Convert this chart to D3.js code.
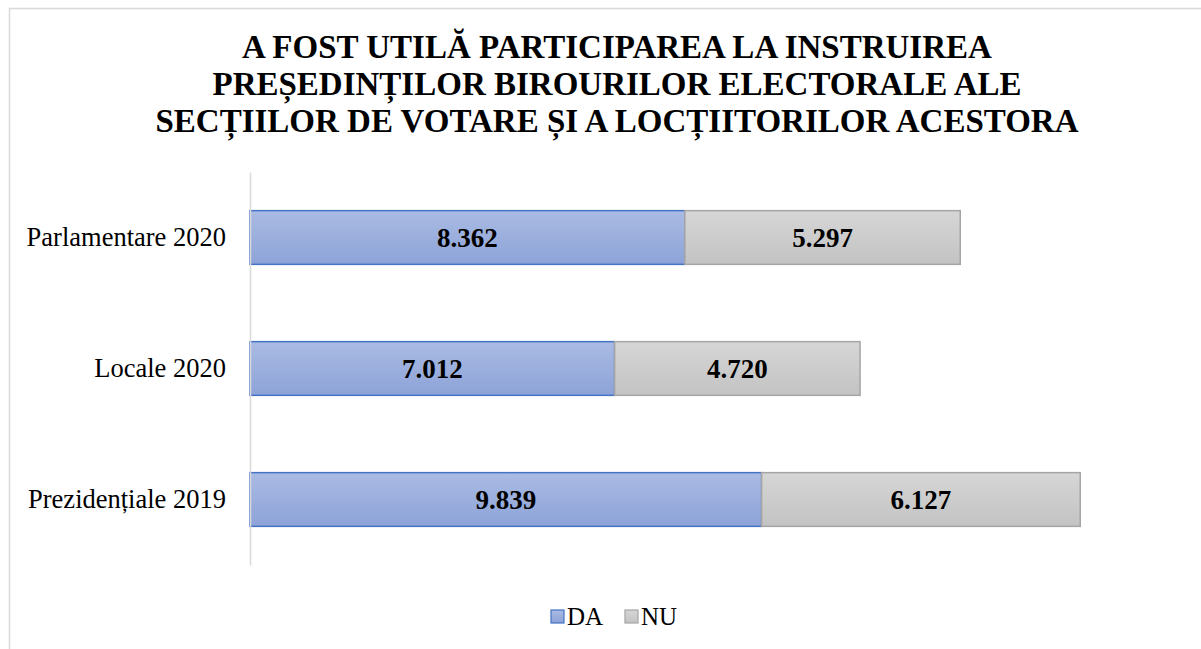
<!DOCTYPE html>
<html>
<head>
<meta charset="utf-8">
<script src="https://cdn.jsdelivr.net/npm/d3@7"></script>
<style>
  body { margin: 0; background: #fff; }
  svg { display: block; font-family: "Liberation Serif", "Times New Roman", serif; }
</style>
</head>
<body>
<svg id="chart" width="1201" height="649"></svg>
<script>
const categories = ['Parlamentare 2020', 'Locale 2020', 'Prezidențiale 2019'];
const seriesNames = ['DA', 'NU'];
const daValues = [8362, 7012, 9839];
const nuValues = [5297, 4720, 6127];
const titleLines = [
  'A FOST UTILĂ PARTICIPAREA LA INSTRUIREA',
  'PREȘEDINȚILOR BIROURILOR ELECTORALE ALE',
  'SECȚIILOR DE VOTARE ȘI A LOCȚIITORILOR ACESTORA'
];

const svg = d3.select('#chart');
const width = +svg.attr('width');
const height = +svg.attr('height');

// gradients
const defs = svg.append('defs');
const gradDA = defs.append('linearGradient').attr('id', 'gDA').attr('x1', 0).attr('y1', 0).attr('x2', 0).attr('y2', 1);
gradDA.append('stop').attr('offset', '0%').attr('stop-color', '#aabbe3');
gradDA.append('stop').attr('offset', '100%').attr('stop-color', '#8da3d8');
const gradNU = defs.append('linearGradient').attr('id', 'gNU').attr('x1', 0).attr('y1', 0).attr('x2', 0).attr('y2', 1);
gradNU.append('stop').attr('offset', '0%').attr('stop-color', '#d6d6d6');
gradNU.append('stop').attr('offset', '100%').attr('stop-color', '#c3c3c3');

// chart area border
svg.append('rect')
  .attr('x', 9.5).attr('y', 8.5)
  .attr('width', width + 20).attr('height', height + 20)
  .attr('fill', '#fff')
  .attr('stroke', '#d9d9d9')
  .attr('stroke-width', 1.5);

// title
svg.append('text')
  .attr('text-anchor', 'middle')
  .style('font-size', '33px')
  .style('font-weight', 'bold')
  .selectAll('tspan')
  .data(titleLines)
  .enter()
  .append('tspan')
  .attr('x', 617)
  .attr('y', (d, i) => 58 + i * 37)
  .text(d => d);

const xScale = d3.scaleLinear()
  .domain([0, 18000])
  .range([250, 1186]);

const yScale = d3.scaleBand()
  .domain(categories)
  .range([172, 565])
  .paddingInner(0.59)
  .paddingOuter(0.295);

const rows = categories.map((c, i) => ({ cat: c, DA: daValues[i], NU: nuValues[i] }));
const stacked = d3.stack().keys(seriesNames)(rows);

const fills = { DA: 'url(#gDA)', NU: 'url(#gNU)' };
const strokes = { DA: '#4472c4', NU: '#a5a5a5' };

const layers = svg.selectAll('.layer')
  .data(stacked)
  .enter()
  .append('g')
  .attr('class', 'layer');

layers.selectAll('rect')
  .data(s => s.map(d => ({ key: s.key, d })))
  .enter()
  .append('rect')
  .attr('x', p => xScale(p.d[0]))
  .attr('y', p => yScale(p.d.data.cat))
  .attr('width', p => xScale(p.d[1]) - xScale(p.d[0]))
  .attr('height', yScale.bandwidth())
  .attr('fill', p => fills[p.key])
  .attr('stroke', p => strokes[p.key])
  .attr('stroke-width', 1.5);

const fmt = v => d3.format(',')(v).replace(/,/g, '.');

layers.selectAll('text')
  .data(s => s.map(d => ({ key: s.key, d })))
  .enter()
  .append('text')
  .attr('x', p => (xScale(p.d[0]) + xScale(p.d[1])) / 2)
  .attr('y', p => yScale(p.d.data.cat) + yScale.bandwidth() / 2)
  .attr('dy', '0.35em')
  .attr('text-anchor', 'middle')
  .style('font-size', '27px')
  .style('font-weight', 'bold')
  .text(p => fmt(p.d[1] - p.d[0]));

// y axis
const yAxis = d3.axisLeft(yScale).tickSize(0).tickPadding(24);
const yg = svg.append('g')
  .attr('transform', 'translate(250,0)')
  .call(yAxis);
yg.select('.domain').attr('stroke', '#d9d9d9').attr('stroke-width', 1.5);
yg.selectAll('text')
  .style('font-family', '"Liberation Serif", "Times New Roman", serif')
  .style('font-size', '26.5px')
  .attr('fill', '#000');

// legend
const legendItems = [
  { key: 'DA', x: 551 },
  { key: 'NU', x: 625 }
];
const legend = svg.append('g');
legend.selectAll('rect')
  .data(legendItems)
  .enter()
  .append('rect')
  .attr('x', d => d.x)
  .attr('y', 610)
  .attr('width', 13)
  .attr('height', 13)
  .attr('fill', d => fills[d.key])
  .attr('stroke', d => strokes[d.key])
  .attr('stroke-width', 1.2);
legend.selectAll('text')
  .data(legendItems)
  .enter()
  .append('text')
  .attr('x', d => d.x + 16)
  .attr('y', 625)
  .style('font-size', '25px')
  .text(d => d.key);
</script>
</body>
</html>
